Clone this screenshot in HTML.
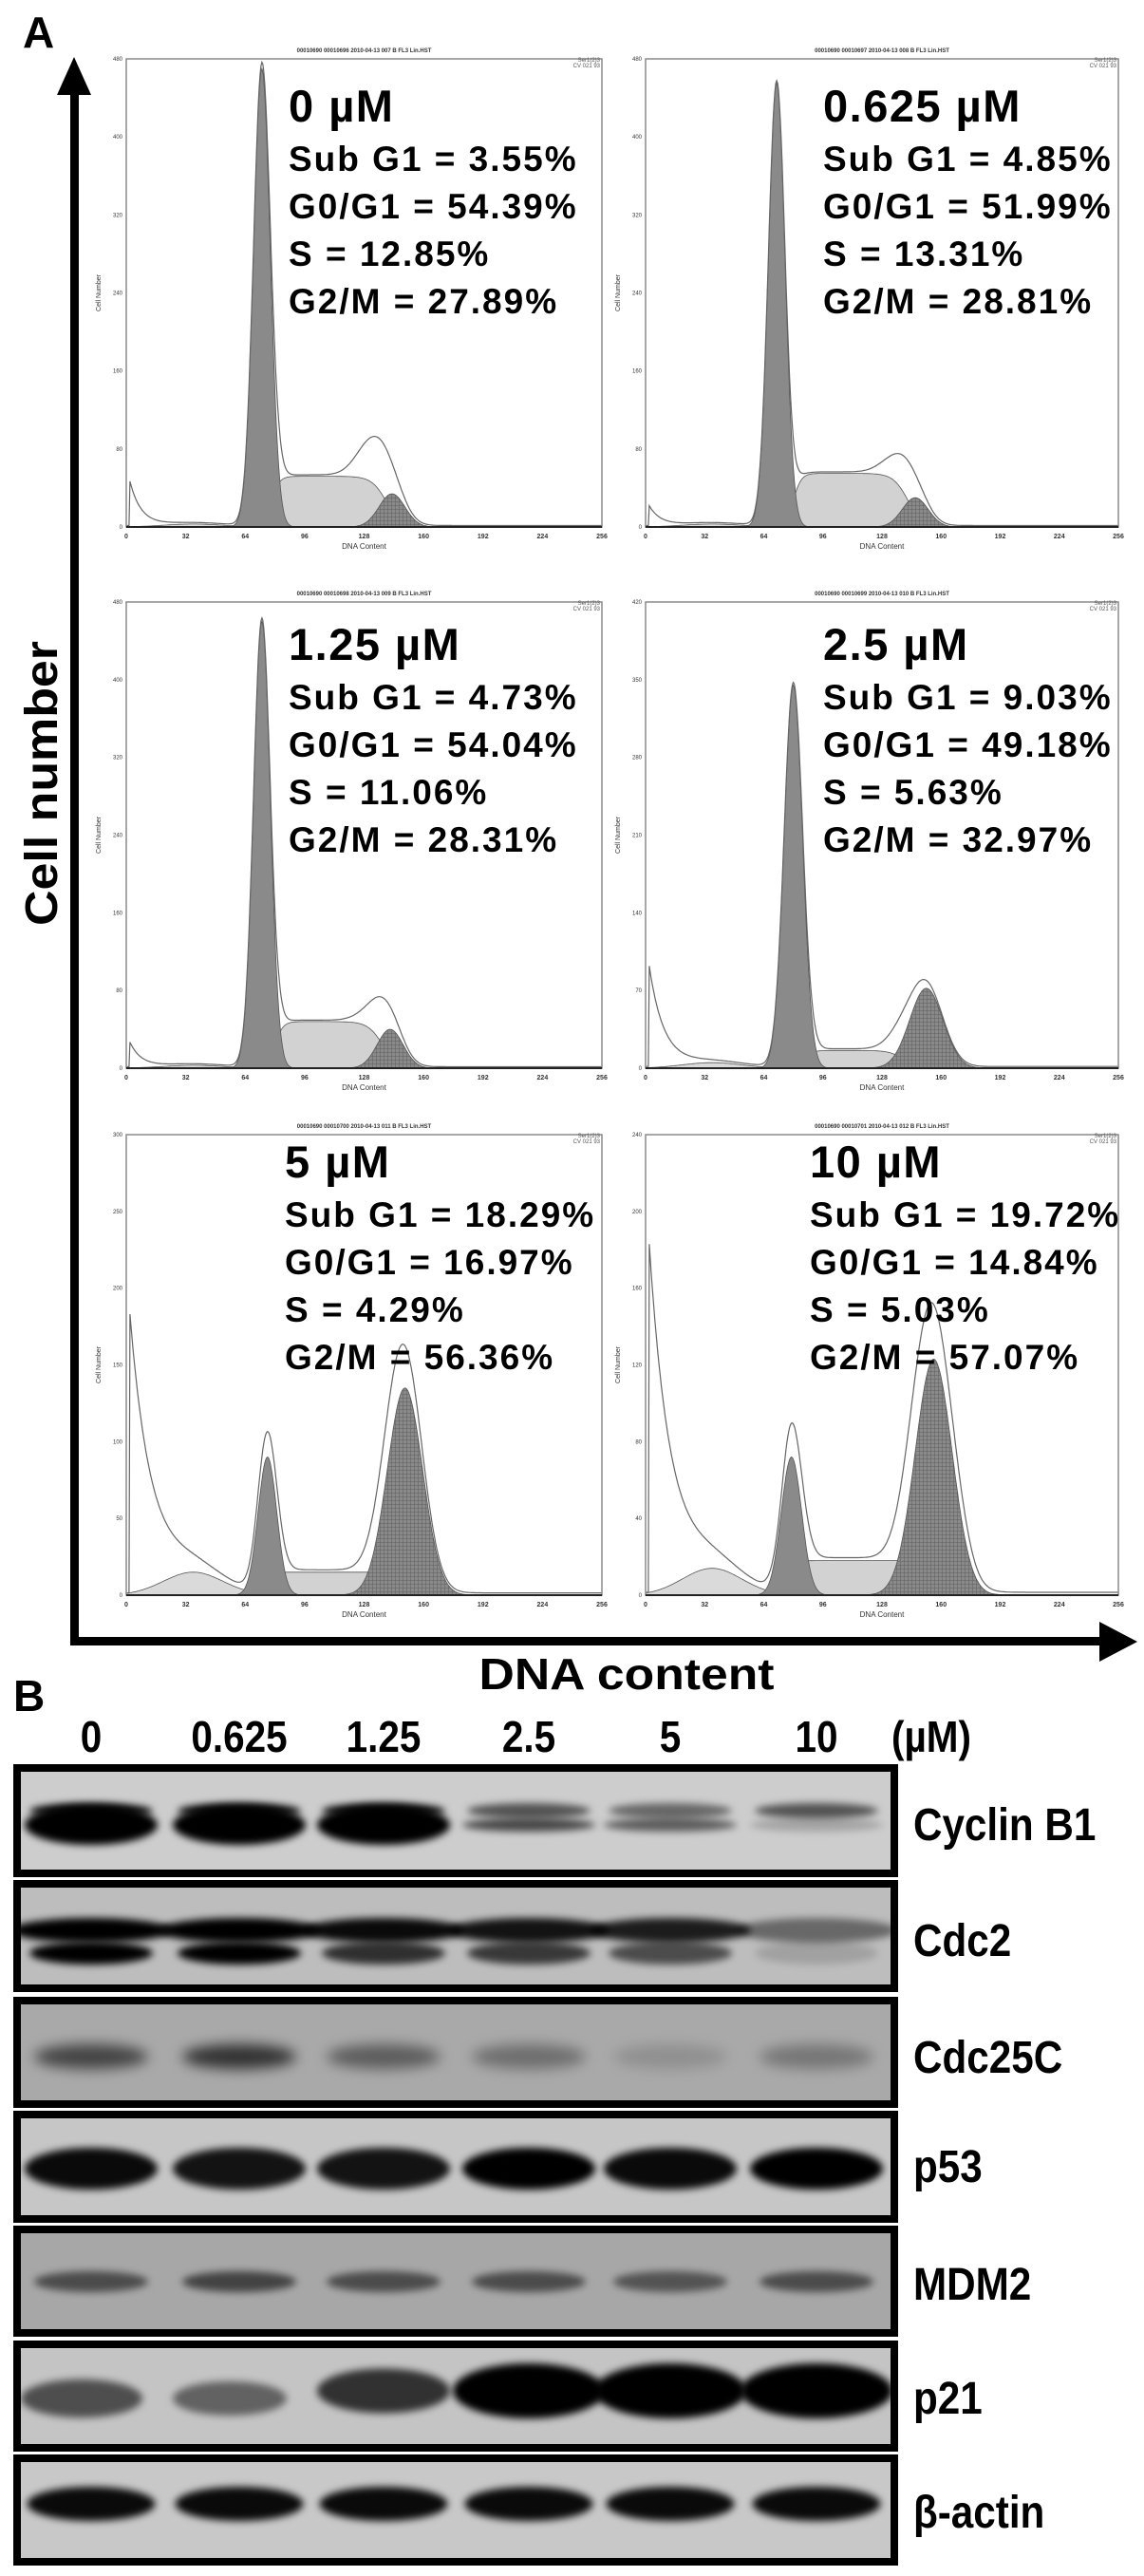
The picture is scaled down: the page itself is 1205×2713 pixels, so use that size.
<!DOCTYPE html>
<html><head><meta charset="utf-8"><style>
html,body{margin:0;padding:0;background:#fff;}
svg{display:block;font-family:"Liberation Sans",Arial,sans-serif;}
</style></head><body>
<svg id="fig" width="1205" height="2713" viewBox="0 0 1205 2713" xmlns="http://www.w3.org/2000/svg">
<defs>
<pattern id="hatch" width="4" height="4" patternUnits="userSpaceOnUse"><rect width="4" height="4" fill="#8a8a8a"/><path d="M0 0H4M0 0V4" stroke="#5e5e5e" stroke-width="1"/></pattern>
<filter id="blur" x="-30%" y="-80%" width="160%" height="260%"><feGaussianBlur stdDeviation="7"/></filter>
<filter id="blur2" x="-30%" y="-80%" width="160%" height="260%"><feGaussianBlur stdDeviation="4"/></filter>
</defs>
<g id="panelA"></g>
<g id="panelB"></g>
</svg>
<script>
// ---------- Panel A data ----------
const doses = ["0 µM","0.625 µM","1.25 µM","2.5 µM","5 µM","10 µM"];
const subG1 = ["3.55%","4.85%","4.73%","9.03%","18.29%","19.72%"];
const g0g1 = ["54.39%","51.99%","54.04%","49.18%","16.97%","14.84%"];
const sPhase = ["12.85%","13.31%","11.06%","5.63%","4.29%","5.03%"];
const g2m = ["27.89%","28.81%","28.31%","32.97%","56.36%","57.07%"];
const yMax = [480,480,480,420,300,240];
const xTicks = [0,32,64,96,128,160,192,224,256];
// G1 peak [position channel, height, sigma]
const g1Pos = [73,71,73,80,76,79];
const g1Height = [470,455,460,345,90,72];
const g1Sigma = [4.5,4.5,4.5,5,5,5.5];
// S phase [start, end, height]
const sStart = [78,80,80,86,70,75];
const sEnd = [140,142,138,140,160,175];
const sHeight = [52,55,48,16,15,18];
// G2 peak
const g2Pos = [143,146,142,152,150,156];
const g2Height = [34,30,40,72,135,123];
const g2Sigma = [7,7,7,9,9.5,10];
// debris [spike amplitude, decay, hump height]
const debrisAmp = [45,20,25,90,180,180];
const debrisTau = [6,6,6,8,12,12];
const debrisHump = [3,3,3,5,15,14];
// unfitted raw excess [pos, height, sigma]
const excessPos = [132,136,134,140,142,146];
const excessHeight = [35,18,15,15,20,20];
const excessSigma = [8,8,8,8,8,8];
const stampTitles = ["00010690 00010696 2010-04-13 007 B FL3 Lin.HST","00010690 00010697 2010-04-13 008 B FL3 Lin.HST","00010690 00010698 2010-04-13 009 B FL3 Lin.HST","00010690 00010699 2010-04-13 010 B FL3 Lin.HST","00010690 00010700 2010-04-13 011 B FL3 Lin.HST","00010690 00010701 2010-04-13 012 B FL3 Lin.HST"];

// ---------- Panel B data ----------
const lanes = ["0","0.625","1.25","2.5","5","10"];
const proteins = ["Cyclin B1","Cdc2","Cdc25C","p53","MDM2","p21","β-actin"];
const cyclinUpper = [0.9,0.9,0.9,0.6,0.5,0.6];
const cyclinLower = [1,1,1,0.65,0.55,0.2];
const cdc2Upper = [1,1,0.95,0.9,0.85,0.45];
const cdc2Lower = [1,1,0.75,0.7,0.6,0.15];
const cdc25c = [0.6,0.7,0.45,0.35,0.15,0.3];
const p53 = [0.95,0.9,0.9,1,0.95,1];
const mdm2 = [0.55,0.6,0.55,0.55,0.5,0.55];
const p21 = [0.6,0.5,0.75,1,1,1];
const actin = [0.95,0.95,0.95,0.95,0.95,0.95];

const NS="http://www.w3.org/2000/svg";
function mk(tag,attrs,parent){const e=document.createElementNS(NS,tag);for(const k in attrs)e.setAttribute(k,attrs[k]);if(parent)parent.appendChild(e);return e;}

const A=document.getElementById('panelA');
// axes arrows
const yAxis=mk('g',{},A);


mk('rect',{x:74,y:95,width:9,height:1638,fill:'#000'},yAxis);
mk('polygon',{points:'78,60 60,100 96,100',fill:'#000'},yAxis);
const xAxis=mk('g',{},A);


mk('rect',{x:74,y:1724,width:1090,height:9,fill:'#000'},xAxis);
mk('polygon',{points:'1198,1729 1158,1708 1158,1750',fill:'#000'},xAxis);
let t=mk('text',{x:24,y:50,'font-size':46,'font-weight':'bold'},A);t.textContent='A';

t=mk('text',{x:0,y:0,'font-size':48,'font-weight':'bold','text-anchor':'middle',transform:'translate(60,825) rotate(-90)',textLength:300,lengthAdjust:'spacingAndGlyphs'},A);t.textContent='Cell number';

t=mk('text',{x:660,y:1779,'font-size':46,'font-weight':'bold','text-anchor':'middle',textLength:311,lengthAdjust:'spacingAndGlyphs'},A);t.textContent='DNA content';


const cols=[[133,634],[680,1178]];
const rows=[[62,555,66],[634,1125,61],[1195,1680,45]];
const textX=[[304,867],[304,867],[300,853]];
function gauss(c,p,h,s){return h*Math.exp(-0.5*Math.pow((c-p)/s,2));}
for(let i=0;i<6;i++){
  const r=Math.floor(i/2),cI=i%2;
  const [x0,x1]=cols[cI],[y0,y1,tOff]=rows[r];
  const g=mk('g',{},A);
  
  
  const X=c=>x0+c/256*(x1-x0), Y=v=>y1-Math.min(v,yMax[i]*1.02)/yMax[i]*(y1-y0);
  const deb=c=>(c<2?0:debrisAmp[i]*Math.exp(-(c-2)/debrisTau[i]))+ (c<2?0:debrisHump[i]*Math.exp(-0.5*Math.pow((c-36)/16,2)));
  const g1=c=>gauss(c,g1Pos[i],g1Height[i],g1Sigma[i]);
  const sp=c=>sHeight[i]/(1+Math.exp(-(c-sStart[i])/2.2))/(1+Math.exp((c-sEnd[i])/4));
  const g2=c=>gauss(c,g2Pos[i],g2Height[i],g2Sigma[i]);
  const ex=c=>gauss(c,excessPos[i],excessHeight[i],excessSigma[i]);
  function area(fn,fill,name){let d='M'+X(0)+','+y1;for(let c=0;c<=256;c+=0.5)d+='L'+X(c).toFixed(1)+','+Y(fn(c)).toFixed(1);d+='L'+X(256)+','+y1+'Z';const p=mk('path',{d:d,fill:fill,stroke:'#555','stroke-width':0.8},g);}
  area(c=>debrisHump[i]*Math.exp(-0.5*Math.pow((c-36)/16,2)),'#dadada','debris-area');
  area(sp,'#d2d2d2','s-phase-area');
  area(g2,'url(#hatch)','g2m-area');
  area(g1,'#8a8a8a','g1-area');
  let d='';for(let c=0;c<=256;c+=0.5){const v=deb(c)+g1(c)+sp(c)+g2(c)+ex(c)+1.5;d+=(c?'L':'M')+X(c).toFixed(1)+','+Y(v).toFixed(1);}
  const raw=mk('path',{d:d,fill:'none',stroke:'#666','stroke-width':1.2},g);
  
  const box=mk('rect',{x:x0,y:y0,width:x1-x0,height:y1-y0,fill:'none',stroke:'#8a8a8a','stroke-width':1.5},g);
  
  mk('line',{x1:x0,y1:y1,x2:x1,y2:y1,stroke:'#222','stroke-width':2},g);
  for(const tk of xTicks){const tt=mk('text',{x:X(tk),y:y1+12,'font-size':7,'font-weight':'bold','text-anchor':'middle',fill:'#333'},g);tt.textContent=tk;}
  for(let k=0;k<=6;k++){const v=yMax[i]/6*k;const tt=mk('text',{x:x0-4,y:Y(v)+2,'font-size':6,'text-anchor':'end',fill:'#333'},g);tt.textContent=v;}
  let tt=mk('text',{x:(x0+x1)/2,y:y1+23,'font-size':8,'text-anchor':'middle',fill:'#333'},g);tt.textContent='DNA Content';
  tt=mk('text',{x:0,y:0,'font-size':7,'text-anchor':'middle',fill:'#333',transform:`translate(${x0-27},${(y0+y1)/2}) rotate(-90)`},g);tt.textContent='Cell Number';
  tt=mk('text',{x:(x0+x1)/2,y:y0-7,'font-size':6,'font-weight':'bold','text-anchor':'middle',fill:'#333'},g);tt.textContent=stampTitles[i];
  tt=mk('text',{x:x1-2,y:y0+3,'font-size':6,'text-anchor':'end',fill:'#555'},g);tt.textContent='Ser1(2)3';
  tt=mk('text',{x:x1-2,y:y0+9,'font-size':6,'text-anchor':'end',fill:'#555'},g);tt.textContent='CV 021 93';
  const tx=textX[r][cI],ty=y0+tOff;
  tt=mk('text',{x:tx,y:ty,'font-size':47,'font-weight':'bold','letter-spacing':1.5},g);tt.textContent=doses[i];
  const lines=['Sub G1 = '+subG1[i],'G0/G1 = '+g0g1[i],'S = '+sPhase[i],'G2/M = '+g2m[i]];
  lines.forEach((s,k)=>{const e=mk('text',{x:tx,y:ty+52+k*50,'font-size':37,'font-weight':'bold','letter-spacing':2},g);e.textContent=s;});
}

// ---------- Panel B ----------
const B=document.getElementById('panelB');
t=mk('text',{x:14,y:1802,'font-size':46,'font-weight':'bold'},B);t.textContent='B';

const laneX=[96,252,404,557,706,860];
const laneW=[28,60,52,38,18,38];
lanes.forEach((l,k)=>{const e=mk('text',{x:laneX[k],y:1845,'font-size':46,'font-weight':'bold','text-anchor':'middle',transform:`translate(${laneX[k]*0.12},0) scale(0.88,1)`},B);e.textContent=l;});
t=mk('text',{x:981,y:1845,'font-size':46,'font-weight':'bold','text-anchor':'middle',transform:'translate(117.7,0) scale(0.88,1)'},B);t.textContent='(µM)';


const rowsB=[[1858,1977],[1980,2098],[2103,2220],[2223,2341],[2344,2461],[2465,2582],[2585,2702]];
const bgs=['#cdcdcd','#bdbdbd','#a9a9a9','#c6c6c6','#a7a7a7','#c4c4c4','#c8c8c8'];
const labelY=[1938,2060,2183,2298,2422,2542,2662];
function band(g,cx,cy,w,h,op,blur){const e=mk('ellipse',{cx:cx,cy:cy,rx:w/2,ry:h/2,fill:'#000','fill-opacity':op,filter:blur||'url(#blur)'},g);}
rowsB.forEach((rw,k)=>{
  const g=mk('g',{},B);
  
  
  const [ya,yb]=rw;
  mk('rect',{x:14,y:ya,width:932,height:yb-ya,fill:'#000'},g);
  mk('rect',{x:22,y:ya+8,width:916,height:yb-ya-16,fill:bgs[k]},g);
  const inner=mk('svg',{x:22,y:ya+8,width:916,height:yb-ya-16,viewBox:`22 ${ya+8} 916 ${yb-ya-16}`,overflow:'hidden'},g);
  const bx=laneX.map(v=>v);
  for(let j=0;j<6;j++){
    if(k===0){band(inner,bx[j],1907,130,16,cyclinUpper[j],'url(#blur2)');band(inner,bx[j],1922,140,cyclinLower[j]>0.8?42:14,cyclinLower[j],'url(#blur2)');}
    if(k===1){band(inner,bx[j],2033,170,26,cdc2Upper[j],'url(#blur2)');band(inner,bx[j],2057,130,24,cdc2Lower[j],'url(#blur2)');}
    if(k===2){band(inner,bx[j],2166,120,26,cdc25c[j]);}
    if(k===3){band(inner,bx[j],2284,140,44,p53[j],'url(#blur2)');}
    if(k===4){band(inner,bx[j],2403,120,22,mdm2[j],'url(#blur2)');}
    if(k===5){const s=p21[j];band(inner,bx[j]+(s<0.7?-10:0),2518+(s<0.7?8:0),80+80*s,14+44*s,s,'url(#blur2)');}
    if(k===6){band(inner,bx[j],2637,135,36,actin[j],'url(#blur2)');}
  }
  const e=mk('text',{x:962,y:labelY[k],'font-size':48,'font-weight':'bold',transform:'translate(115.4,0) scale(0.88,1)'},g);
  e.textContent=proteins[k];
});
</script>
</body></html>
